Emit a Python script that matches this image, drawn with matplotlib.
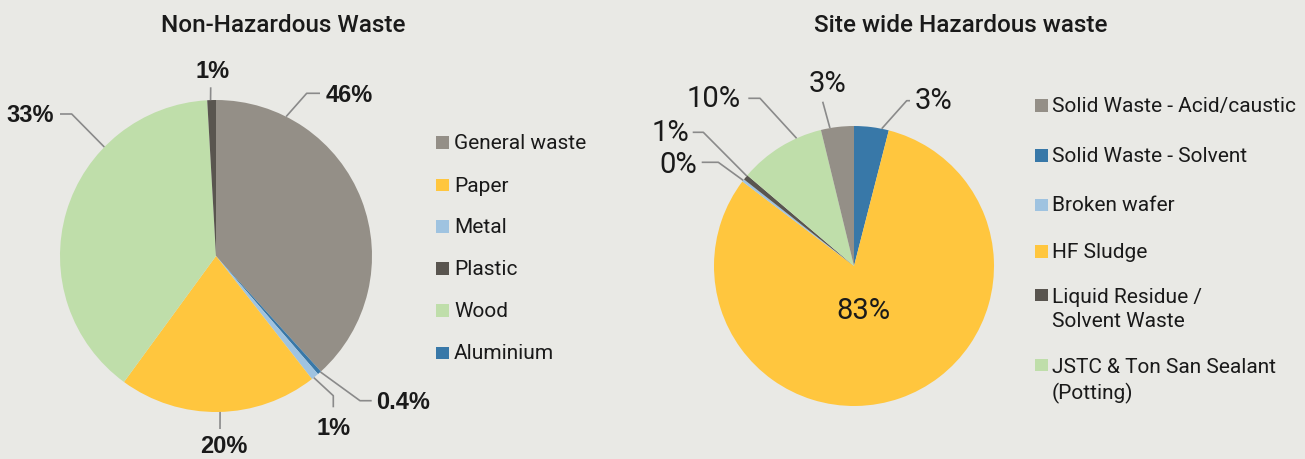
import numpy as np
import matplotlib
matplotlib.use("Agg")
import matplotlib.pyplot as plt
from matplotlib.patches import Rectangle

# ---------------- data ----------------
# Non-hazardous waste: slice sizes as drawn (clockwise from 12 o'clock) and printed labels
nonhaz_cats = ["General waste", "Aluminium", "Metal", "Paper", "Wood", "Plastic"]
nonhaz_values = [38.3, 0.4, 0.8, 20.6, 39.1, 0.9]
nonhaz_labels = ["46%", "0.4%", "1%", "20%", "33%", "1%"]
nonhaz_legend = ["General waste", "Paper", "Metal", "Plastic", "Wood", "Aluminium"]

# Site wide hazardous waste (clockwise from 12 o'clock)
haz_cats = ["Solid Waste - Solvent", "HF Sludge", "Broken wafer",
            "Liquid Residue /\nSolvent Waste", "JSTC & Ton San Sealant\n(Potting)",
            "Solid Waste - Acid/caustic"]
haz_values = [4.0, 81.4, 0.3, 0.6, 10.0, 3.8]
haz_labels = ["3%", "83%", "0%", "1%", "10%", "3%"]
haz_legend = ["Solid Waste - Acid/caustic", "Solid Waste - Solvent", "Broken wafer",
              "HF Sludge", "Liquid Residue /\nSolvent Waste",
              "JSTC & Ton San Sealant\n(Potting)"]

colors = {
    "General waste": "#948f87", "Paper": "#ffc63e", "Metal": "#9fc3e0",
    "Plastic": "#59554f", "Wood": "#bfdeaa", "Aluminium": "#3878a8",
    "Solid Waste - Acid/caustic": "#948f87", "Solid Waste - Solvent": "#3878a8",
    "Broken wafer": "#9fc3e0", "HF Sludge": "#ffc63e",
    "Liquid Residue /\nSolvent Waste": "#59554f",
    "JSTC & Ton San Sealant\n(Potting)": "#bfdeaa",
}

BG = "#e9e9e5"
TXT = "#1a1a1a"
LINE = "#8a8a8a"
W, H = 1305, 460

fig = plt.figure(figsize=(W / 100, H / 100), dpi=100, facecolor=BG)
ax = fig.add_axes([0, 0, 1, 1])
ax.set_facecolor(BG)


def Y(y):  # convert pixel-from-top to data y
    return H - y


# ---------------- pies ----------------
c1, r1 = (216, 257), 156
c2, r2 = (854, 267), 140

ax.pie(nonhaz_values, colors=[colors[c] for c in nonhaz_cats], startangle=90,
       counterclock=False, center=(c1[0], Y(c1[1])), radius=r1,
       wedgeprops=dict(linewidth=0))
ax.pie(haz_values, colors=[colors[c] for c in haz_cats], startangle=90,
       counterclock=False, center=(c2[0], Y(c2[1])), radius=r2,
       wedgeprops=dict(linewidth=0))

ax.set_xlim(0, W)
ax.set_ylim(0, H)
ax.set_aspect("equal")
ax.axis("off")


def rim(center, r, ang):
    a = np.deg2rad(ang)
    return center[0] + r * np.cos(a), Y(center[1]) + r * np.sin(a)


# ---------------- labels & leader lines ----------------
# (label index, attach angle, list of pixel waypoints, text pos, ha)
left_layout = [
    (0, 63.3, [(306.7, 94.3), (320, 94.3)], (326, 95), "left"),
    (1, -48.0, [(360, 401.7), (371.7, 401.7)], (376, 403), "left"),
    (2, -51.2, [(333.3, 396.7), (333.3, 408.3)], (334, 429), "center"),
    (3, -88.5, [(220, 430)], (224, 447), "center"),
    (4, 135.7, [(71.7, 115), (60, 115)], (54, 116), "right"),
    (5, 92.0, [(210.7, 88.3)], (213, 72), "center"),
]
for idx, ang, pts, tpos, ha in left_layout:
    x0, y0 = rim(c1, r1, ang)
    xs = [x0] + [p[0] for p in pts]
    ys = [y0] + [Y(p[1]) for p in pts]
    ax.plot(xs, ys, color=LINE, lw=1.2, solid_capstyle="butt")
    ax.text(tpos[0], Y(tpos[1]), nonhaz_labels[idx], ha=ha, va="center",
            fontsize=17, fontweight="bold", family="Liberation Sans", color=TXT)

right_layout = [
    (0, 78.6, [(906.7, 101.7), (910, 101.7)], (915, 101), "left"),
    (5, 99.9, [(822.7, 102.7)], (827, 84), "center"),
    (4, 114.2, [(760, 99.3), (748.3, 99.3)], (741, 99), "right"),
    (3, 140.0, [(703.3, 133.3), (692.7, 133.3)], (689, 133), "right"),
    (2, 142.3, [(718.3, 163.3), (701.7, 163.3)], (697, 165), "right"),
]
for idx, ang, pts, tpos, ha in right_layout:
    x0, y0 = rim(c2, r2, ang)
    xs = [x0] + [p[0] for p in pts]
    ys = [y0] + [Y(p[1]) for p in pts]
    ax.plot(xs, ys, color=LINE, lw=1.2, solid_capstyle="butt")
    ax.text(tpos[0], Y(tpos[1]), haz_labels[idx], ha=ha, va="center",
            fontsize=21, family="Roboto", color=TXT)
ax.text(863, Y(311), haz_labels[1], ha="center", va="center",
        fontsize=21, family="Roboto", color=TXT)

# ---------------- titles ----------------
ax.text(283, Y(25), "Non-Hazardous Waste", ha="center", va="center",
        fontsize=17.5, fontweight="medium", family="Roboto", color=TXT)
ax.text(961, Y(25), "Site wide Hazardous waste", ha="center", va="center",
        fontsize=17.5, fontweight="medium", family="Roboto", color=TXT)

# ---------------- legends ----------------
LFS = 15
SQ = 12.5
left_rows = [143.3, 186, 227.3, 269.3, 311.7, 354]
for name, y in zip(nonhaz_legend, left_rows):
    ax.add_patch(Rectangle((436, Y(y) - SQ / 2), SQ, SQ,
                           facecolor=colors[name], edgecolor="none"))
    ax.text(454, Y(y), name, ha="left", va="center",
            fontsize=LFS, family="Roboto", color=TXT)

right_rows = [106.7, 156.7, 206, 252.7, 296, 366]
for name, y in zip(haz_legend, right_rows):
    ax.add_patch(Rectangle((1035, Y(y) - SQ / 2), SQ, SQ,
                           facecolor=colors[name], edgecolor="none"))
    if "\n" in name:
        ax.text(1052, Y(y) + 8, name, ha="left", va="top", fontsize=LFS,
                family="Roboto", color=TXT, linespacing=1.35)
    else:
        ax.text(1052, Y(y), name, ha="left", va="center", fontsize=LFS,
                family="Roboto", color=TXT)

fig.savefig("out.png", dpi=100, facecolor=BG)
